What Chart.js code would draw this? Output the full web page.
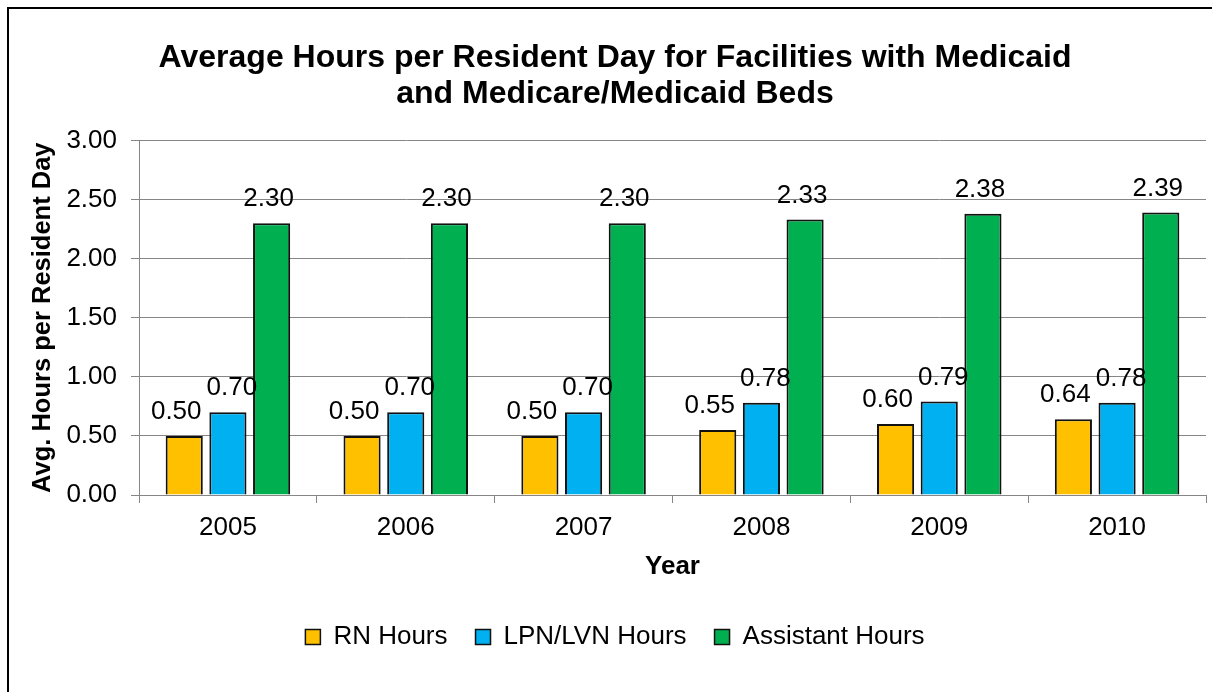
<!DOCTYPE html>
<html>
<head>
<meta charset="utf-8">
<script src="https://cdn.jsdelivr.net/npm/chart.js@4.4.0/dist/chart.umd.min.js"></script>
<style>
  html, body { margin: 0; padding: 0; background: #fff; overflow: hidden; }
  #frame { position: absolute; left: 7px; top: 7px; width: 1212px; height: 692px;
           border-left: 2px solid #000; border-top: 2px solid #000; }
  #wrap { position: absolute; left: 0; top: 0; width: 1212px; height: 683px; }
</style>
</head>
<body>
<div id="frame"><div id="wrap"><canvas id="hoursChart"></canvas></div></div>
<script>
const years = ["2005", "2006", "2007", "2008", "2009", "2010"];
const rnHours = [0.50, 0.50, 0.50, 0.55, 0.60, 0.64];
const lpnHours = [0.70, 0.70, 0.70, 0.78, 0.79, 0.78];
const assistantHours = [2.30, 2.30, 2.30, 2.33, 2.38, 2.39];

const FONT = "'Liberation Sans', Arial, sans-serif";
const GRID = "#868686";

Chart.defaults.font.family = FONT;
Chart.defaults.color = "#000";

// value labels above each bar (small sideways nudge per series like the original)
const labelNudge = [-8, 4, -3];
const barLabels = {
  id: "barLabels",
  afterDatasetsDraw(chart) {
    const ctx = chart.ctx;
    ctx.save();
    ctx.font = "26px " + FONT;
    ctx.fillStyle = "#000";
    ctx.textAlign = "center";
    ctx.textBaseline = "alphabetic";
    chart.data.datasets.forEach((ds, i) => {
      chart.getDatasetMeta(i).data.forEach((bar, j) => {
        ctx.fillText(ds.data[j].toFixed(2), bar.x + labelNudge[i], bar.y - 17);
      });
    });
    ctx.restore();
  }
};

const ctx = document.getElementById("hoursChart");

new Chart(ctx, {
  type: "bar",
  data: {
    labels: years,
    datasets: [
      { label: "RN Hours", data: rnHours, backgroundColor: "#FFC000" },
      { label: "LPN/LVN Hours", data: lpnHours, backgroundColor: "#00B0F0" },
      { label: "Assistant Hours", data: assistantHours, backgroundColor: "#00B050" },
    ],
  },
  options: {
    responsive: true,
    maintainAspectRatio: false,
    animation: false,
    layout: { padding: { left: 0, right: 0, top: 0, bottom: 32 } },
    datasets: {
      bar: {
        borderColor: "#111",
        borderWidth: 2,
        categoryPercentage: 0.737,
        barPercentage: 0.85,
      },
    },
    plugins: {
      title: {
        display: true,
        text: ["Average Hours per Resident Day for Facilities with Medicaid",
               "and Medicare/Medicaid Beds"],
        font: { size: 32, weight: "bold", lineHeight: 1.1 },
        color: "#000",
        padding: { top: 32, bottom: 29 },
      },
      legend: {
        position: "bottom",
        labels: {
          font: { size: 26 },
          boxWidth: 15,
          boxHeight: 15,
          padding: 28,
          color: "#000",
          generateLabels(chart) {
            return chart.data.datasets.map((ds, i) => ({
              text: ds.label,
              fillStyle: ds.backgroundColor,
              strokeStyle: "#111",
              lineWidth: 1.5,
              datasetIndex: i,
            }));
          },
        },
      },
      tooltip: { enabled: false },
    },
    scales: {
      x: {
        afterFit(s) { s.height = 101; },
        grid: {
          offset: true,
          drawOnChartArea: false,
          color: GRID,
          tickLength: 8,
        },
        border: { color: GRID },
        ticks: { font: { size: 26 }, padding: 9 },
        title: {
          display: true,
          text: "Year",
          font: { size: 26, weight: "bold" },
          padding: { top: 0, bottom: 14 },
        },
      },
      y: {
        min: 0,
        max: 3,
        afterFit(s) { s.width = 130; },
        grid: { color: GRID, tickLength: 8 },
        border: { color: GRID },
        ticks: {
          stepSize: 0.5,
          font: { size: 26 },
          padding: 14,
          callback: (v) => v.toFixed(2),
        },
        title: {
          display: true,
          text: "Avg. Hours per Resident Day",
          font: { size: 25.5, weight: "bold" },
          padding: { top: 19, bottom: 0 },
        },
      },
      // empty strip on the right so the plot stops short of the frame edge
      spacer: {
        position: "right",
        afterFit(s) { s.width = 15; },
        grid: { display: false },
        border: { display: false },
        ticks: { display: false },
      },
    },
  },
  plugins: [barLabels],
});
</script>
</body>
</html>
